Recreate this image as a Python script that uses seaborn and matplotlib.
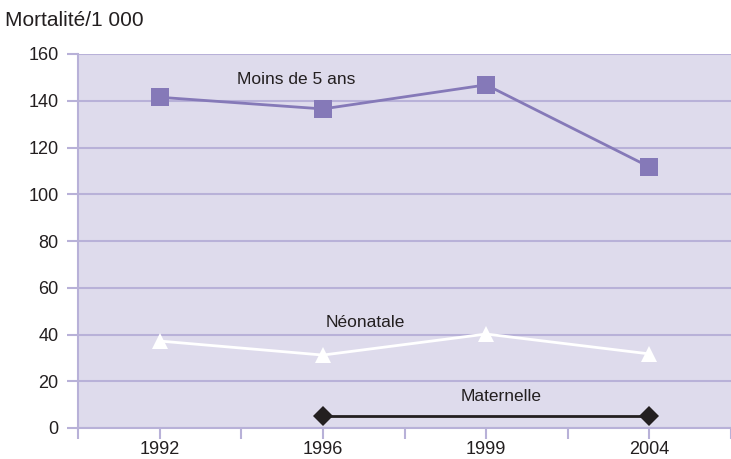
import pandas as pd
import numpy as np
import seaborn as sns
import matplotlib.pyplot as plt

# Données
annees = ['1992', '1996', '1999', '2004']
moins_5_ans = [141.5, 136.5, 146.8, 111.7]
neonatale = [37.2, 31.2, 40.2, 31.7]
maternelle = [np.nan, 5.0, np.nan, 5.0]

df = pd.DataFrame({'annee': annees, 'pos': range(len(annees)),
                   'Moins de 5 ans': moins_5_ans,
                   'Néonatale': neonatale,
                   'Maternelle': maternelle})

sns.set_style('white')
plt.rcParams['font.family'] = ['Liberation Sans', 'DejaVu Sans']

fig = plt.figure(figsize=(7.31, 4.59), dpi=100)
ax = fig.add_axes([78/731, 1 - 428/459, 1 - 78/731, (428 - 54)/459])
ax.set_facecolor('#dedbec')

grille = '#b8b1d8'
violet = '#8579b8'
texte = '#231f20'

sns.lineplot(data=df, x='pos', y='Moins de 5 ans', ax=ax, color=violet, lw=2,
             marker='s', markersize=13, markeredgewidth=0, zorder=3)
sns.lineplot(data=df, x='pos', y='Néonatale', ax=ax, color='white', lw=2,
             marker='^', markersize=11, markeredgewidth=0, zorder=3)
sns.lineplot(data=df.dropna(), x='pos', y='Maternelle', ax=ax, color=texte, lw=2,
             marker='D', markersize=10, markeredgewidth=0, zorder=3)

ax.set_xlim(-0.5, 3.5)
ax.set_ylim(0, 160)
ax.set_yticks(range(0, 161, 20))
ax.set_xticks(np.arange(-0.5, 3.6, 0.5))
ax.set_xticklabels(['' if i % 2 == 0 else annees[i // 2] for i in range(9)])
ax.grid(axis='y', color=grille, lw=1.5)
ax.set_axisbelow(True)

for side in ['top', 'right']:
    ax.spines[side].set_visible(False)
for side in ['left', 'bottom']:
    ax.spines[side].set_color(grille)
    ax.spines[side].set_linewidth(1.5)

ax.tick_params(axis='both', colors=grille, width=1.5, length=8, labelsize=13,
               labelcolor=texte, left=True, bottom=True)
ax.tick_params(axis='x', pad=1)
ax.tick_params(axis='y', pad=6)
ax.set_xlabel('')
ax.set_ylabel('')

ax.text(0.835, 149, 'Moins de 5 ans', fontsize=12.5, color=texte, ha='center', va='center')
ax.text(1.258, 45.3, 'Néonatale', fontsize=12.5, color=texte, ha='center', va='center')
ax.text(2.09, 13.3, 'Maternelle', fontsize=12.5, color=texte, ha='center', va='center')

fig.text(5/731, 1 - 21/459, 'Mortalité/1 000', fontsize=15, color=texte, va='center')

plt.savefig('out.png', dpi=100)
